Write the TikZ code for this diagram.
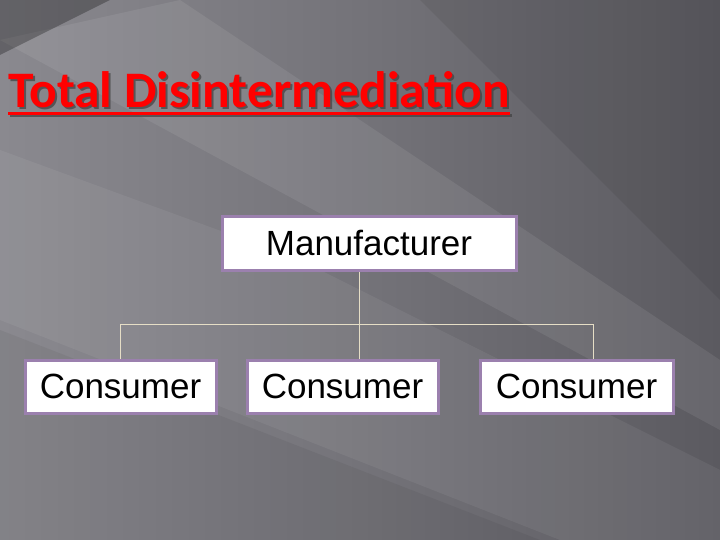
\documentclass[tikz,border=0pt]{standalone}
\usepackage{fontspec}
\setmainfont{Liberation Sans}
\newfontfamily\titlefont{Carlito}
\usetikzlibrary{fadings}
\definecolor{boxborder}{HTML}{9B80AE}
\definecolor{linecol}{HTML}{E6DEC6}
\definecolor{titlered}{HTML}{FF0000}
\definecolor{bgleft}{HTML}{8A898F}
\definecolor{bgmid}{HTML}{747379}
\definecolor{bgright}{HTML}{5B5A60}
\begin{document}
\begin{tikzpicture}[x=1pt,y=-1pt,
  box/.style={draw=boxborder,line width=3pt,fill=white,inner sep=0pt,
    font=\fontsize{35}{40}\selectfont},
  conn/.style={draw=linecol,line width=0.9pt}]
% background
\useasboundingbox (0,0) rectangle (720,540);
\shade[left color=bgleft,right color=bgright,middle color=bgmid] (0,0) rectangle (720,540);
\fill[white,opacity=0.08] (0,40) -- (180,0) -- (720,360) -- (720,430) -- cycle;
\fill[white,opacity=0.06] (0,150) -- (300,260) -- (720,470) -- (720,540) -- (560,540) -- (0,320) -- cycle;
\fill[black,opacity=0.05] (0,330) -- (540,540) -- (0,540) -- cycle;
\fill[black,opacity=0.28] (0,0) -- (110,0) -- (0,55) -- cycle;
\fill[black,opacity=0.07] (420,0) -- (720,0) -- (720,300) -- cycle;
% title
\node[anchor=base west,inner sep=0pt,text=black!75,opacity=0.7] at (10,110)
  {\resizebox{502pt}{36pt}{\titlefont\bfseries Total Disintermediation}};
\fill[black!75,opacity=0.7] (10,114) rectangle (512,117);
\node[anchor=base west,inner sep=0pt,text=titlered] (title) at (8,108)
  {\resizebox{502pt}{36pt}{\titlefont\bfseries Total Disintermediation}};
\fill[titlered] (8,112) rectangle (510,115);
% nodes
\node[box,minimum width=294pt,minimum height=53pt] (m) at (369,243.5) {Manufacturer};
\node[box,minimum width=191pt,minimum height=53pt] (c1) at (120.5,386.5) {Consumer};
\node[box,minimum width=191pt,minimum height=53pt] (c2) at (342.5,386.5) {Consumer};
\node[box,minimum width=193pt,minimum height=53pt] (c3) at (576.5,386.5) {Consumer};
\coordinate (j) at (359,324);
\coordinate (jl) at (120,324);
\coordinate (jr) at (593,324);
\draw[conn] (m.south -| j) -- (j);
\draw[conn] (jl) -- (jr);
\draw[conn] (jl) -- (jl |- c1.north);
\draw[conn] (j) -- (j |- c2.north);
\draw[conn] (jr) -- (jr |- c3.north);
\end{tikzpicture}
\end{document}
